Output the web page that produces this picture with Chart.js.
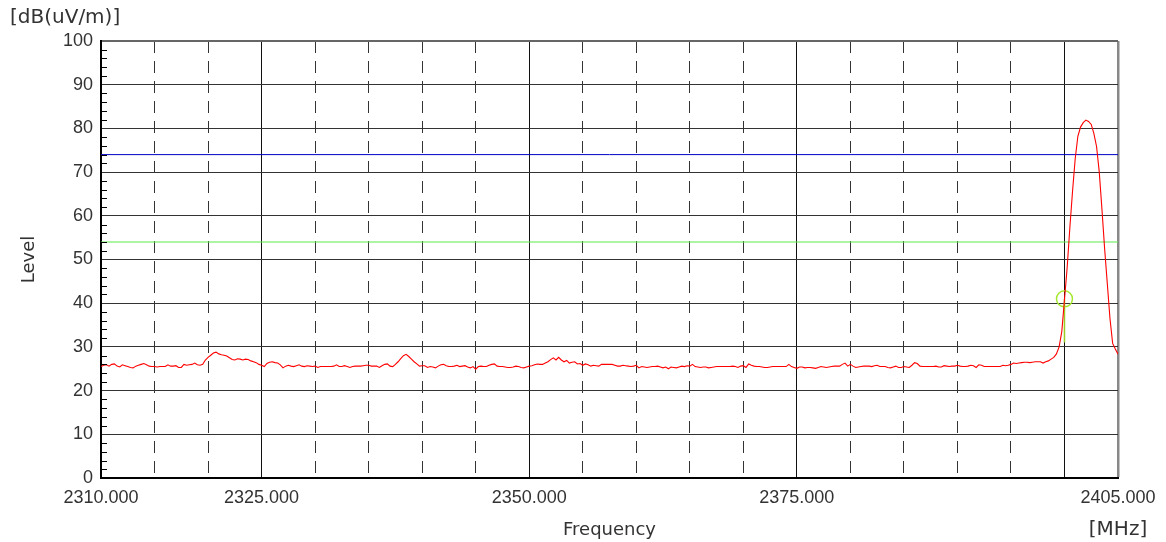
<!DOCTYPE html>
<html>
<head>
<meta charset="utf-8">
<script src="https://cdn.jsdelivr.net/npm/chart.js@4.4.1/dist/chart.umd.min.js"></script>
<style>
  html, body { margin: 0; padding: 0; background: #fff; }
  #wrap { width: 1166px; height: 542px; position: relative; }
</style>
</head>
<body>
<div id="wrap"><canvas id="c"></canvas></div>
<script>
// ---- data ----
const freqStart = 2310;      // MHz, first sweep point
const freqStep = 0.25;       // MHz between sweep points
const levels = [
  25.5, 25.8, 25.9, 25.6, 26.0, 26.1, 25.6, 25.4, 25.9, 25.7,
  25.5, 25.3, 25.2, 25.6, 25.8, 26.0, 26.2, 25.9, 25.6, 25.5,
  25.5, 25.4, 25.5, 25.5, 25.5, 25.9, 25.6, 25.6, 25.7, 25.3,
  25.3, 26.0, 25.8, 25.9, 26.0, 26.3, 25.9, 25.8, 26.0, 27.0,
  27.6, 28.1, 28.6, 28.8, 28.4, 28.2, 28.1, 27.9, 27.5, 27.1,
  27.0, 27.3, 27.2, 27.0, 27.2, 27.1, 26.8, 26.6, 26.4, 26.0,
  25.8, 25.5, 26.2, 26.5, 26.6, 26.4, 26.3, 25.9, 25.2, 25.6,
  25.8, 25.6, 25.5, 25.7, 25.9, 25.6, 25.5, 25.7, 25.6, 25.5,
  25.6, 25.3, 25.5, 25.5, 25.5, 25.5, 25.5, 25.6, 25.9, 25.5,
  25.5, 25.7, 25.5, 25.3, 25.5, 25.6, 25.6, 25.6, 25.7, 25.8,
  25.8, 25.6, 25.6, 25.6, 25.3, 25.7, 26.0, 26.1, 25.6, 25.5,
  26.0, 26.6, 27.3, 28.0, 28.3, 27.8, 27.2, 26.6, 26.1, 25.6,
  25.7, 25.7, 25.3, 25.5, 25.4, 25.2, 25.6, 25.9, 26.0, 25.7,
  25.5, 25.5, 25.6, 25.8, 25.5, 25.6, 25.7, 25.4, 25.2, 25.5,
  24.9, 25.5, 25.6, 25.5, 25.5, 25.8, 26.0, 26.1, 25.6, 25.5,
  25.5, 25.4, 25.3, 25.3, 25.4, 25.6, 25.5, 25.3, 25.2, 25.4,
  25.6, 25.7, 25.9, 26.1, 26.0, 26.0, 26.3, 26.6, 27.1, 27.5,
  27.0, 27.6, 27.0, 26.6, 26.9, 26.3, 26.5, 26.6, 26.1, 26.2,
  25.8, 26.1, 25.9, 25.6, 25.8, 25.7, 25.6, 26.0, 26.0, 26.0,
  26.0, 26.0, 25.8, 25.6, 25.6, 25.8, 25.7, 25.6, 25.5, 25.6,
  25.8, 25.2, 25.5, 25.4, 25.3, 25.4, 25.5, 25.5, 25.6, 25.4,
  25.2, 25.4, 25.0, 25.4, 25.3, 25.2, 25.4, 25.6, 25.5, 25.7,
  25.6, 26.0, 25.5, 25.4, 25.3, 25.4, 25.4, 25.2, 25.3, 25.4,
  25.5, 25.5, 25.5, 25.5, 25.5, 25.5, 25.6, 25.5, 25.3, 25.6,
  25.7, 25.3, 26.1, 25.8, 25.6, 25.5, 25.5, 25.4, 25.3, 25.3,
  25.4, 25.5, 25.5, 25.5, 25.5, 25.5, 25.5, 26.0, 25.5, 25.3,
  25.1, 25.4, 25.4, 25.2, 25.3, 25.3, 25.2, 25.1, 25.3, 25.5,
  25.4, 25.3, 25.4, 25.5, 25.6, 25.6, 25.6, 26.0, 26.3, 25.6,
  26.0, 25.6, 25.3, 25.4, 25.5, 25.6, 25.6, 25.6, 25.5, 25.7,
  25.8, 25.5, 25.5, 25.5, 25.3, 25.2, 25.4, 25.6, 25.3, 25.3,
  25.5, 25.4, 25.3, 25.8, 26.4, 26.2, 25.6, 25.5, 25.5, 25.5,
  25.5, 25.5, 25.6, 25.4, 25.4, 25.7, 25.6, 25.5, 25.6, 25.6,
  25.8, 25.6, 25.5, 25.5, 25.6, 25.8, 25.7, 25.3, 25.9, 25.8,
  25.5, 25.5, 25.5, 25.5, 25.5, 25.5, 25.5, 25.8, 25.7, 25.8,
  26.0, 26.3, 26.2, 26.3, 26.4, 26.5, 26.5, 26.4, 26.5, 26.6,
  26.6, 26.6, 26.3, 26.6, 26.8, 27.2, 27.6, 28.4, 30.0, 33.5,
  40.8, 48.1, 57.2, 65.5, 73.0, 78.2, 80.3, 81.3, 81.9, 81.6,
  80.9, 78.8, 75.8, 70.0, 61.5, 52.5, 44.5, 36.5, 30.8, 29.5, 28.3
];
const peakLimit = 74;        // blue limit line, dB(uV/m)
const avgLimit = 54;         // green limit line, dB(uV/m)
const markerFreq = 2400;     // MHz
const markerLevel = 41;      // dB(uV/m)
const markerLineEnd = 31;    // dB(uV/m)
const xMin = 2310, xMax = 2405;
const xTickValues = [2310, 2325, 2350, 2375, 2400, 2405];
const xTickLabels = ['2310.000', '2325.000', '2350.000', '2375.000', '', '2405.000'];
const xDashedGrid = [2315, 2320, 2330, 2335, 2340, 2345, 2355, 2360, 2365, 2370, 2380, 2385, 2390, 2395];
const yMinorTicks = [2,4,6,8,12,14,16,18,22,24,26,28,32,34,36,38,42,44,46,48,52,54,56,58,62,64,66,68,72,74,76,78,82,84,86,88,92,94,96,98];
const yMin = 0, yMax = 100, yStep = 10;

// ---- build chart ----
const traceData = levels.map((v, i) => ({ x: freqStart + i * freqStep, y: v }));
const tickFont = { family: 'Liberation Sans', size: 18 };
const titleFont = { family: 'DejaVu Sans', size: 18 };
const textColor = '#333';

const extras = {
  id: 'extras',
  afterDraw(chart) {
    const ctx = chart.ctx, ys = chart.scales.y, xs = chart.scales.x;
    const left = chart.chartArea.left;
    ctx.save();
    ctx.strokeStyle = '#000';
    ctx.lineWidth = 1;
    for (const v of yMinorTicks) {
      const py = Math.round(ys.getPixelForValue(v)) + 0.5;
      ctx.beginPath(); ctx.moveTo(left, py); ctx.lineTo(left + 6, py); ctx.stroke();
    }
    ctx.fillStyle = textColor;
    ctx.font = '20px "DejaVu Sans"';
    ctx.textAlign = 'center';
    ctx.textBaseline = 'middle';
    ctx.fillText('[MHz]', xs.getPixelForValue(xMax), 530);
    ctx.restore();
  }
};

new Chart(document.getElementById('c'), {
  type: 'line',
  data: {
    datasets: [
      { data: traceData, borderColor: '#ff0000', borderWidth: 1.1, pointRadius: 0, tension: 0, xAxisID: 'x', yAxisID: 'y' },
      { data: [{ x: markerFreq, y: markerLevel }], showLine: false, pointRadius: 8, pointStyle: 'circle',
        pointBorderColor: '#a6e830', pointBackgroundColor: 'rgba(0,0,0,0)', pointBorderWidth: 1.5, xAxisID: 'x', yAxisID: 'y' },
      { data: [{ x: markerFreq, y: markerLevel }, { x: markerFreq, y: markerLineEnd }], borderColor: '#99cc22', borderWidth: 1.5, pointRadius: 0, xAxisID: 'x', yAxisID: 'y' },
      { data: [{ x: xMin, y: peakLimit }, { x: xMax, y: peakLimit }], borderColor: '#0000c8', borderWidth: 1, pointRadius: 0, xAxisID: 'x', yAxisID: 'y' },
      { data: [{ x: xMin, y: avgLimit }, { x: xMax, y: avgLimit }], borderColor: '#5cec4c', borderWidth: 1.2, pointRadius: 0, xAxisID: 'x', yAxisID: 'y' }
    ]
  },
  options: {
    responsive: true,
    maintainAspectRatio: false,
    animation: false,
    layout: { padding: { left: 10, right: 48, top: 0, bottom: 0 } },
    plugins: {
      legend: { display: false },
      tooltip: { enabled: false },
      title: {
        display: true, text: '[dB(uV/m)]', align: 'start', color: textColor,
        font: { family: 'DejaVu Sans', size: 20, weight: 'normal' },
        padding: { top: 6, bottom: 11 }
      }
    },
    scales: {
      x: {
        type: 'linear', position: 'bottom', min: xMin, max: xMax,
        afterBuildTicks: s => { s.ticks = xTickValues.map(v => ({ value: v })); },
        afterFit: s => { s.height = 64; },
        ticks: { callback: (v, i) => xTickLabels[i], font: tickFont, color: textColor, padding: 9, maxRotation: 0, autoSkip: false },
        grid: {
          drawTicks: false,
          color: c => c.tick && c.tick.value === xMin ? 'rgba(0,0,0,0)' : (c.tick && c.tick.value === xMax ? '#888' : '#111'),
          lineWidth: c => c.tick && c.tick.value === xMax ? 2.5 : 1
        },
        border: { display: true, color: '#000', width: 2 },
        title: { display: true, text: 'Frequency', font: titleFont, color: textColor, padding: { top: 0, bottom: 1 } }
      },
      x2: {
        type: 'linear', position: 'bottom', min: xMin, max: xMax,
        afterBuildTicks: s => { s.ticks = xDashedGrid.map(v => ({ value: v })); },
        afterFit: s => { s.height = 0; },
        ticks: { display: false },
        grid: { drawTicks: false, color: '#333', lineWidth: 1 },
        border: { display: false, dash: [12, 8] }
      },
      y: {
        type: 'linear', position: 'left', min: yMin, max: yMax,
        afterFit: s => { s.width = 91; },
        ticks: { stepSize: yStep, font: tickFont, color: textColor, padding: 8 },
        grid: {
          drawTicks: false,
          color: c => c.tick && c.tick.value === yMax ? '#666' : '#333',
          lineWidth: c => c.tick && c.tick.value === yMax ? 2 : 1
        },
        border: { display: true, color: '#000', width: 2 },
        title: { display: true, text: 'Level', font: titleFont, color: textColor, padding: { top: 9, bottom: 0 } }
      }
    }
  },
  plugins: [extras]
});
</script>
</body>
</html>
